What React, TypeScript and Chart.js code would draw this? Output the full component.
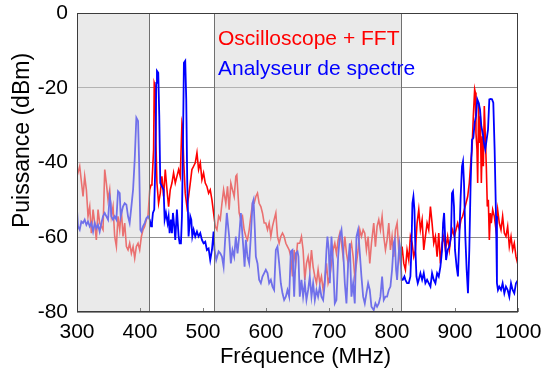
import React, { useEffect, useRef } from 'react';
import { Chart, registerables } from 'chart.js';

Chart.register(...registerables);

const seriesNames = ['Oscilloscope + FFT', 'Analyseur de spectre'];
const xTitle = 'Fréquence (MHz)';
const yTitle = 'Puissance (dBm)';
const xTickValues = [300, 400, 500, 600, 700, 800, 900, 1000];
const yTickValues = [0, -20, -40, -60, -80];
const shadedBands = [[300, 415], [518, 815]];
const bandEdges = [415, 518, 815];

const freqRed = [
  300, 304.3, 309.6, 312.2, 314.9, 317.5, 320.2, 322.8, 325.5, 328.1, 330.7, 333.4, 336, 338.7, 341.3, 344,
  346.6, 349.3, 351.9, 354.5, 357.2, 359.8, 362.5, 365.1, 367.8, 370.4, 373, 375.7, 378.4, 381, 383.6, 386.3,
  389, 391.6, 394.2, 396.9, 399.5, 402.2, 404.8, 407.4, 410.1, 412.7, 415.4, 417.5, 419, 421.6, 422.6, 424.2,
  425.3, 426.9, 429.5, 432.2, 434.8, 437.5, 440.1, 442.8, 445.4, 448, 450.7, 453.3, 456, 458.6, 461.3, 463.9,
  466.6, 467.6, 469.2, 471.8, 474.5, 477.1, 479.8, 482.4, 485.1, 487.7, 490.4, 493, 495.7, 498.3, 500.9, 503.6,
  506.2, 508.9, 511.5, 514.2, 516.8, 519.5, 522.1, 524.8, 527.4, 530.1, 532.7, 536.2, 538.9, 541.5, 544.2, 546.8,
  549.5, 552.1, 553.7, 555.8, 557.4, 560.1, 562.7, 565.3, 568, 570.6, 573.3, 575.9, 578.6, 581.2, 583.9, 586.5,
  589.1, 591.8, 594.4, 597.1, 599.7, 602.4, 605, 607.7, 610.3, 612.9, 615.6, 618.2, 620.9, 623.5, 626.2, 628.8,
  631.5, 634.1, 636.8, 639.4, 642, 644.7, 647.3, 650, 653.6, 656.3, 658.9, 661.6, 664.2, 666.9, 669.5, 672.2,
  674.8, 677.5, 680.1, 682.7, 685.4, 688, 690.7, 693.3, 696, 698.6, 701.3, 703.9, 706.5, 709.2, 711.8, 714.5,
  717.1, 719.8, 722.4, 725.1, 727.7, 730.4, 733, 735.6, 738.3, 740.9, 743.6, 746.2, 748.9, 751.5, 754.2, 756.8,
  759.4, 762.1, 764.7, 767.4, 771, 773.7, 776.3, 779, 781.6, 784.3, 786.9, 789.6, 792.2, 794.9, 797.5, 800.1,
  802.8, 805.4, 808.1, 810.7, 813.4, 816, 818.7, 821.3, 823.9, 826.6, 829.2, 831.9, 834.5, 837.2, 839.8, 842.5,
  845.1, 847.8, 850.4, 853, 855.7, 858.3, 861, 863.6, 866.3, 868.9, 871.6, 874.2, 876.8, 879.5, 882.1, 884.8,
  888.3, 891, 893.6, 896.3, 898.9, 901.6, 904.2, 906.9, 909.5, 912.1, 914.8, 917.4, 920.1, 922.7, 925.4, 927,
  929.1, 931.2, 932.3, 933.3, 934.9, 936, 937.5, 938.6, 940.2, 941.8, 943.4, 945, 946.5, 948.1, 949.7, 951.3,
  952.9, 954.5, 956.1, 957.6, 959.8, 962.4, 965.1, 967.7, 970.3, 973, 975.6, 978.3, 980.9, 983.6, 986.2, 988.9,
  991.5, 994.1, 996.8, 999.4, 1000,
];
const powerRed = [
  -43.7, -41.0, -49.1, -43.7, -47.3, -54.4, -51.8, -58.9, -52.6, -56.2, -60.7, -52.6, -56.2, -57.1, -58.0, -41.9,
  -45.5, -50.0, -47.3, -54.4, -51.8, -59.8, -62.5, -54.4, -58.0, -52.6, -59.8, -56.2, -62.5, -63.4, -61.6, -64.3,
  -62.5, -65.6, -62.5, -61.6, -63.4, -59.8, -58.0, -57.1, -55.3, -54.4, -47.3, -46.0, -45.5, -36.5, -18.7, -19.6,
  -34.8, -45.5, -50.9, -48.2, -43.7, -49.1, -41.9, -47.3, -51.8, -47.3, -45.5, -42.8, -45.5, -43.7, -41.9, -43.7,
  -29.4, -30.3, -39.2, -48.2, -51.8, -49.1, -45.5, -41.9, -41.0, -40.1, -37.4, -41.9, -40.1, -44.6, -42.8, -45.5,
  -46.4, -48.2, -47.3, -50.0, -53.5, -57.1, -58.0, -54.4, -55.3, -50.9, -47.3, -50.9, -46.4, -52.6, -45.5, -47.3,
  -49.1, -43.7, -43.3, -49.1, -53.5, -55.3, -54.4, -58.0, -59.8, -60.7, -58.0, -54.4, -50.9, -50.9, -49.1, -48.2,
  -50.9, -51.8, -53.5, -56.2, -56.2, -58.0, -56.2, -59.8, -57.1, -55.3, -53.5, -59.8, -61.6, -59.8, -58.9, -59.8,
  -61.6, -62.5, -63.4, -65.2, -70.5, -63.4, -67.0, -61.6, -61.6, -59.8, -63.4, -71.4, -67.0, -65.2, -68.7, -63.4,
  -67.9, -70.5, -72.3, -68.7, -72.3, -70.5, -74.1, -71.4, -67.0, -72.3, -70.5, -67.0, -63.4, -61.6, -64.3, -60.7,
  -58.9, -61.6, -65.2, -59.8, -64.3, -67.0, -63.4, -61.6, -65.2, -70.5, -67.0, -63.4, -58.0, -59.8, -58.0, -58.9,
  -63.4, -59.8, -67.0, -61.6, -56.2, -62.5, -57.1, -55.3, -58.0, -54.4, -59.8, -63.4, -60.7, -56.2, -63.4, -59.8,
  -65.2, -58.0, -56.2, -63.4, -67.0, -62.5, -67.0, -68.7, -63.4, -66.1, -59.8, -61.6, -65.2, -63.4, -56.2, -52.6,
  -58.0, -55.3, -63.4, -59.8, -56.2, -58.0, -51.8, -56.2, -61.6, -59.8, -65.2, -58.9, -67.0, -61.6, -59.8, -63.4,
  -59.8, -63.4, -59.8, -58.0, -59.8, -58.0, -56.2, -58.0, -55.3, -54.4, -52.6, -50.9, -49.1, -45.5, -39.2, -36.5,
  -27.6, -20.4, -21.3, -32.1, -36.5, -45.5, -24.0, -34.8, -27.6, -45.5, -33.0, -41.0, -24.9, -33.0, -41.0, -51.8,
  -50.0, -60.7, -53.5, -56.2, -52.6, -54.4, -58.0, -52.6, -56.2, -58.0, -54.4, -58.9, -59.8, -57.1, -62.5, -59.8,
  -63.4, -61.6, -65.2, -67.0, -64.0,
];

const freqBlue = [
  300, 301.6, 304.3, 306.9, 309.6, 312.2, 314.9, 317.5, 320.2, 322.8, 325.5, 328.1, 330.7, 333.4, 336, 338.7,
  341.3, 344, 346.6, 349.3, 351.9, 353.5, 354.5, 357.2, 359.8, 362.5, 365.1, 367.8, 369.4, 373, 375.7, 378.4,
  381, 383.6, 386.3, 389, 391.6, 394.2, 396.9, 398.5, 400.6, 402.2, 404.8, 407.4, 410.1, 412.7, 415.4, 417.5,
  419, 420.5, 422.6, 424.2, 425.8, 426.9, 429, 430.6, 432.2, 434.8, 437.5, 439.1, 441.2, 443.8, 445.4, 447,
  449.1, 450.7, 452.3, 454.4, 456, 458.6, 461.3, 462.9, 465, 466.6, 468.1, 469.7, 471.8, 473.4, 475, 477.1,
  479.8, 481.4, 483, 485.1, 487.7, 490.4, 493, 495.7, 498.3, 500.9, 503.6, 506.2, 508.9, 511.5, 514.2, 516.8,
  518.4, 521, 524.8, 527.4, 530.1, 532.7, 535, 537.8, 541.5, 544.2, 546.8, 549.5, 552.1, 554.8, 557.4, 560.1,
  561.6, 564.3, 566, 568, 570.6, 573.3, 575.9, 578.6, 580.2, 582.3, 583.9, 586.5, 589.1, 591.8, 594.4, 597.1,
  599.7, 602.4, 605, 607.7, 610.3, 612.9, 615.6, 618.2, 620.9, 623.5, 626.2, 628.8, 631.5, 634.1, 636.8, 639.4,
  642, 644.7, 647.3, 650, 651.5, 653.6, 656.3, 658.9, 661.6, 664.2, 666.9, 669.5, 672.2, 674.8, 677.5, 680.1,
  682.7, 685.4, 688, 690.7, 693.3, 696, 697.5, 699.7, 701.3, 703.9, 706.5, 709.2, 711.8, 714.5, 717.1, 719.8,
  722.4, 725.1, 727.7, 730.4, 733, 735.6, 738.3, 740.9, 743.6, 746.2, 748.9, 751.5, 754.2, 756.8, 759.4, 762.1,
  764.7, 767.4, 771, 773.7, 776.3, 779, 781.6, 784.3, 786.9, 789.6, 792.2, 794.9, 797.5, 800.1, 802.8, 804.4,
  806.5, 808.1, 809.7, 811.8, 813.4, 815, 817.1, 819.7, 821.3, 823.9, 826.6, 829.2, 830.8, 832.4, 834, 835.6,
  837.2, 838.8, 840.9, 842.5, 845.1, 847.8, 850.4, 853, 855.7, 858.3, 861, 863.6, 866.3, 868.9, 871.6, 874.2,
  876.8, 879.5, 881.1, 882.7, 884.3, 885.8, 888.3, 891, 893.6, 895.2, 896.8, 898.4, 900, 902.6, 904.7, 906.9,
  909, 911.1, 912.7, 914.3, 916.4, 918.5, 920.6, 922.7, 924.8, 927, 929.1, 931.2, 933.3, 935.4, 937.5, 939.7,
  941.8, 943.9, 946, 948.1, 950.2, 952.4, 954.5, 956.6, 958.7, 960.8, 962.9, 965.1, 966.6, 968.2, 970.3, 973,
  975.6, 978.3, 980.9, 983.6, 986.2, 988.9, 991.5, 994.1, 996.8, 1000,
];
const powerBlue = [
  -52.6, -57.1, -58.0, -55.8, -56.2, -55.3, -56.7, -55.8, -57.1, -56.2, -58.5, -56.2, -57.6, -56.7, -58.5, -56.2,
  -54.4, -53.5, -54.4, -55.3, -49.1, -50.9, -54.4, -55.3, -54.4, -55.3, -47.7, -48.2, -54.4, -51.8, -50.9, -51.3,
  -54.4, -56.2, -51.8, -47.3, -39.2, -28.0, -28.9, -39.2, -58.0, -58.5, -57.1, -56.2, -54.9, -54.4, -55.3, -57.1,
  -56.2, -53.5, -52.6, -41.0, -18.7, -15.5, -16.0, -27.6, -45.5, -46.4, -47.3, -55.3, -53.5, -56.2, -54.4, -58.9,
  -55.3, -58.9, -53.5, -57.1, -60.7, -52.6, -59.8, -61.6, -61.6, -54.4, -36.5, -13.3, -12.8, -23.1, -45.5, -59.8,
  -54.4, -55.3, -59.8, -58.0, -59.8, -58.5, -59.8, -58.9, -60.7, -61.6, -61.2, -63.4, -63.0, -66.1, -63.4, -58.5,
  -63.4, -66.1, -63.8, -64.3, -65.2, -67.9, -61.0, -53.5, -59.8, -67.0, -63.4, -65.2, -59.8, -64.3, -59.8, -53.5,
  -57.1, -63.4, -67.9, -60.7, -65.2, -67.0, -59.8, -50.9, -50.0, -58.0, -65.2, -67.0, -71.4, -72.3, -70.5, -69.6,
  -68.7, -69.6, -72.3, -71.4, -73.2, -74.1, -63.4, -62.5, -67.0, -72.3, -75.0, -76.8, -75.9, -74.1, -75.9, -63.8,
  -63.4, -75.9, -64.3, -63.8, -65.2, -75.9, -71.4, -75.9, -72.3, -76.8, -74.1, -70.5, -75.9, -72.3, -76.8, -74.1,
  -75.9, -73.2, -75.9, -76.8, -72.3, -63.4, -59.8, -63.4, -72.3, -59.8, -67.0, -77.7, -76.8, -65.2, -59.8, -58.0,
  -63.4, -72.3, -77.7, -67.0, -61.6, -75.9, -72.3, -77.7, -59.8, -58.0, -64.3, -70.5, -75.9, -77.7, -75.0, -72.3,
  -74.1, -78.6, -79.5, -77.7, -78.6, -77.7, -75.9, -70.5, -76.8, -75.9, -75.9, -74.1, -73.2, -68.7, -61.6, -60.7,
  -68.7, -71.4, -67.0, -61.6, -63.4, -71.4, -71.4, -70.5, -71.4, -72.3, -72.3, -70.5, -63.4, -50.9, -49.1, -52.6,
  -63.4, -70.5, -72.3, -71.4, -69.6, -71.4, -69.6, -72.3, -71.4, -72.3, -73.2, -69.6, -71.4, -72.3, -69.6, -70.5,
  -67.9, -63.4, -56.2, -53.5, -59.8, -66.1, -63.4, -62.5, -59.8, -48.2, -47.7, -51.8, -63.4, -67.9, -70.5, -59.8,
  -49.1, -41.0, -39.7, -45.5, -59.8, -68.7, -75.0, -63.4, -45.5, -33.9, -33.4, -29.4, -27.6, -23.1, -24.0, -25.8,
  -30.3, -32.1, -34.8, -36.5, -33.9, -31.2, -23.1, -23.0, -23.1, -24.0, -36.5, -54.4, -72.3, -74.1, -73.2, -74.1,
  -72.3, -75.0, -73.2, -74.1, -75.9, -72.3, -74.1, -75.0, -72.3, -71.4,
];

const FONT = '"Liberation Sans", Arial, Helvetica, sans-serif';

const overlayPlugin = {
  id: 'overlayPlugin',
  afterDatasetsDraw(chart: any) {
    const { ctx, chartArea: a, scales } = chart;
    const x = scales.x;
    ctx.save();
    ctx.fillStyle = 'rgba(215,215,215,0.52)';
    for (const [s, e] of shadedBands) {
      const x0 = x.getPixelForValue(s);
      const x1 = x.getPixelForValue(e);
      ctx.fillRect(x0, a.top, x1 - x0, a.bottom - a.top);
    }
    ctx.strokeStyle = '#707070';
    ctx.lineWidth = 1;
    for (const v of bandEdges) {
      const px = Math.round(x.getPixelForValue(v)) + 0.5;
      ctx.beginPath();
      ctx.moveTo(px, a.top);
      ctx.lineTo(px, a.bottom);
      ctx.stroke();
    }
    ctx.strokeStyle = '#808080';
    for (const v of xTickValues) {
      const px = Math.round(x.getPixelForValue(v)) + 0.5;
      ctx.beginPath();
      ctx.moveTo(px, a.bottom);
      ctx.lineTo(px, a.bottom - 4);
      ctx.stroke();
    }
    ctx.strokeStyle = '#3c3c3c';
    ctx.lineWidth = 1;
    ctx.strokeRect(a.left + 0.5, a.top + 0.5, a.right - a.left - 1, a.bottom - a.top - 1);
    ctx.font = `21px ${FONT}`;
    ctx.textAlign = 'left';
    ctx.textBaseline = 'alphabetic';
    ctx.fillStyle = '#ff0000';
    ctx.fillText(seriesNames[0], a.left + 141, a.top + 32);
    ctx.fillStyle = '#0000ff';
    ctx.fillText(seriesNames[1], a.left + 141, a.top + 62);
    ctx.fillStyle = '#000000';
    ctx.font = `22px ${FONT}`;
    ctx.textAlign = 'center';
    ctx.fillText(xTitle, (a.left + a.right) / 2 + 8, 363);
    ctx.save();
    ctx.translate(23, (a.top + a.bottom) / 2 - 22);
    ctx.rotate(-Math.PI / 2);
    ctx.font = `23px ${FONT}`;
    ctx.textBaseline = 'middle';
    ctx.fillText(yTitle, 0, 0);
    ctx.restore();
    ctx.restore();
  },
};

export default function App() {
  const ref = useRef<HTMLCanvasElement>(null);
  useEffect(() => {
    if (!ref.current) return;
    const chart = new Chart(ref.current, {
      type: 'line',
      data: {
        datasets: [
          {
            label: seriesNames[0],
            data: freqRed.map((f, i) => ({ x: f, y: powerRed[i] })),
            borderColor: '#ff0000',
            borderWidth: 1.6,
            pointRadius: 0,
            tension: 0,
            fill: false,
            order: 1,
          },
          {
            label: seriesNames[1],
            data: freqBlue.map((f, i) => ({ x: f, y: powerBlue[i] })),
            borderColor: '#0000ff',
            borderWidth: 1.8,
            pointRadius: 0,
            tension: 0,
            fill: false,
            order: 0,
          },
        ],
      },
      options: {
        responsive: false,
        animation: false,
        devicePixelRatio: 1,
        layout: { padding: { left: 0, top: 13, right: 30, bottom: 0 } },
        plugins: { legend: { display: false }, tooltip: { enabled: false } },
        scales: {
          x: {
            type: 'linear',
            min: 300,
            max: 1000,
            afterFit: (s: any) => { s.height = 59; s.paddingLeft = 0; s.paddingRight = 0; },
            afterBuildTicks: (s: any) => { s.ticks = xTickValues.map((v) => ({ value: v })); },
            grid: { display: false, drawTicks: false },
            border: { display: false },
            ticks: {
              autoSkip: false,
              maxRotation: 0,
              padding: 8,
              color: '#000',
              font: { family: FONT, size: 21 },
              callback: (v: any) => String(v),
            },
          },
          y: {
            type: 'linear',
            min: -80,
            max: 0,
            afterFit: (s: any) => { s.width = 77; s.paddingTop = 0; s.paddingBottom = 0; },
            afterBuildTicks: (s: any) => { s.ticks = yTickValues.map((v) => ({ value: v })); },
            grid: { color: '#8c8c8c', lineWidth: 1, drawTicks: false },
            border: { display: false },
            ticks: {
              padding: 9,
              color: '#000',
              font: { family: FONT, size: 21 },
              callback: (v: any) => String(v),
            },
          },
        },
      },
      plugins: [overlayPlugin],
    });
    return () => chart.destroy();
  }, []);
  return (
    <div style={{ position: 'absolute', left: 0, top: 0, width: 548, height: 371, background: '#fff' }}>
      <canvas ref={ref} width={548} height={371} style={{ display: 'block' }} />
    </div>
  );
}
